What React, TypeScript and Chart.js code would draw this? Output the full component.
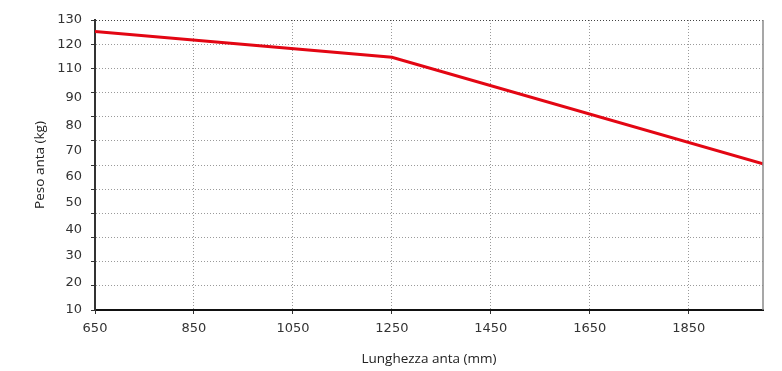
import React, { useEffect, useRef } from 'react';
import { Chart, registerables } from 'chart.js';

Chart.register(...registerables);

// ---- data ----
const lengthsMm = [650, 1250, 2000];
const weightsKg = [125.2, 114.6, 70.5];

const xTickValues = [650, 850, 1050, 1250, 1450, 1650, 1850];
const yGridValues = [10, 20, 30, 40, 50, 60, 70, 80, 90, 100, 110, 120, 130];
const yTickLabels = ['130', '120', '110', '90', '80', '70', '60', '50', '40', '30', '20', '10'];
const yTickLabelValues = [130, 120, 110, 98, 86.5, 75.8, 65, 54.3, 43.1, 32.3, 21.2, 10];

const xTitle = 'Lunghezza anta (mm)';
const yTitle = 'Peso anta (kg)';

const tickFont = { family: 'DejaVu Sans', size: 13 };
const titleFont = { family: 'Open Sans', size: 13.5 };

const rightBorder = {
  id: 'rightBorder',
  afterDraw(chart: any) {
    const { ctx, chartArea } = chart;
    ctx.save();
    ctx.strokeStyle = '#8a8a8a';
    ctx.lineWidth = 1.5;
    ctx.beginPath();
    ctx.moveTo(chartArea.right, chartArea.top);
    ctx.lineTo(chartArea.right, chartArea.bottom);
    ctx.stroke();
    ctx.restore();
  },
};

export default function App() {
  const ref = useRef<HTMLCanvasElement | null>(null);

  useEffect(() => {
    if (!ref.current) return;
    const yTickSet = Array.from(new Set([...yGridValues, ...yTickLabelValues])).sort((a, b) => a - b);
    const chart = new Chart(ref.current, {
      type: 'line',
      data: {
        datasets: [
          {
            data: lengthsMm.map((x, i) => ({ x, y: weightsKg[i] })),
            borderColor: '#e30613',
            borderWidth: 3,
            pointRadius: 0,
            tension: 0,
            fill: false,
          },
        ],
      },
      plugins: [rightBorder],
      options: {
        responsive: false,
        animation: false,
        devicePixelRatio: 1,
        layout: { padding: { left: 0, right: 19, top: 20, bottom: 0 } },
        plugins: { legend: { display: false }, tooltip: { enabled: false } },
        scales: {
          x: {
            type: 'linear',
            min: 650,
            max: 2000,
            afterBuildTicks: (scale: any) => {
              scale.ticks = xTickValues.map((v) => ({ value: v }));
            },
            afterFit: (scale: any) => {
              scale.height = 61;
            },
            ticks: {
              autoSkip: false,
              maxRotation: 0,
              color: '#333',
              font: tickFont,
              padding: 7,
              callback: (v: any) => String(v),
            },
            grid: {
              color: '#9a9a9a',
              lineWidth: 1,
              tickLength: 4,
              tickColor: '#333',
            },
            border: { display: true, color: '#111', width: 2, dash: [1, 2] },
            title: {
              display: true,
              text: xTitle,
              color: '#222',
              font: titleFont,
              padding: { top: 0, bottom: 4 },
            },
          },
          y: {
            type: 'linear',
            min: 10,
            max: 130,
            afterBuildTicks: (scale: any) => {
              scale.ticks = yTickSet.map((v) => ({ value: v }));
            },
            afterFit: (scale: any) => {
              scale.width = 95;
            },
            ticks: {
              autoSkip: false,
              color: '#333',
              font: tickFont,
              padding: 9,
              callback: (v: any) => {
                const idx = yTickLabelValues.indexOf(Number(v));
                return idx >= 0 ? yTickLabels[idx] : '';
              },
            },
            grid: {
              color: (ctx: any) => {
                const v = ctx.tick ? ctx.tick.value : null;
                if (v === null || !yGridValues.includes(v)) return 'rgba(0,0,0,0)';
                return v === 130 ? '#444' : '#9a9a9a';
              },
              tickColor: (ctx: any) => {
                const v = ctx.tick ? ctx.tick.value : null;
                return v !== null && yGridValues.includes(v) ? '#333' : 'rgba(0,0,0,0)';
              },
              lineWidth: 1,
              tickLength: 4,
            },
            border: { display: true, color: '#333', width: 2, dash: [1, 2] },
            title: {
              display: true,
              text: yTitle,
              color: '#222',
              font: titleFont,
              padding: { top: 32, bottom: 0 },
            },
          },
        },
      },
    } as any);
    return () => chart.destroy();
  }, []);

  return (
    <div style={{ position: 'fixed', left: 0, top: 0, width: 782, height: 371, background: '#fff' }}>
      <canvas ref={ref} width={782} height={371} />
    </div>
  );
}
